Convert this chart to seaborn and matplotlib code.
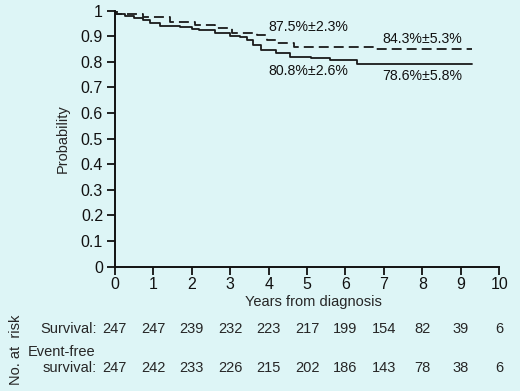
import pandas as pd
import seaborn as sns
import matplotlib.pyplot as plt

# --- dados ---
anos_sg = [0, 0.05, 0.73, 1.43, 2.08, 2.6, 3.05, 3.7, 3.95, 4.2, 4.65, 6.8, 9.3]
prob_sg = [1.0, 0.986, 0.973, 0.957, 0.944, 0.931, 0.912, 0.905, 0.885, 0.875, 0.859, 0.849, 0.849]

anos_sle = [0, 0.03, 0.25, 0.5, 0.73, 0.9, 1.17, 1.7, 2.0, 2.2, 2.6, 3.0, 3.25, 3.45,
            3.6, 3.8, 4.2, 4.55, 5.1, 5.6, 6.3, 9.3]
prob_sle = [1.0, 0.986, 0.977, 0.97, 0.964, 0.951, 0.941, 0.934, 0.928, 0.925, 0.912, 0.902,
            0.896, 0.885, 0.866, 0.846, 0.834, 0.82, 0.814, 0.807, 0.792, 0.792]

anos_risco = [0, 1, 2, 3, 4, 5, 6, 7, 8, 9, 10]
risco_sg = [247, 247, 239, 232, 223, 217, 199, 154, 82, 39, 6]
risco_sle = [247, 242, 233, 226, 215, 202, 186, 143, 78, 38, 6]

rotulos = ["87.5%\u00b12.3%", "84.3%\u00b15.3%", "80.8%\u00b12.6%", "78.6%\u00b15.8%"]
rot_x = [5.03, 8.0, 5.03, 8.0]
rot_y = [0.936, 0.889, 0.764, 0.745]

FUNDO = "#ddf5f6"

sns.set_style("ticks")
plt.rcParams['font.family'] = ['Liberation Sans', 'DejaVu Sans']

df_sg = pd.DataFrame({'Anos': anos_sg, 'Prob': prob_sg})
df_sle = pd.DataFrame({'Anos': anos_sle, 'Prob': prob_sle})

fig = plt.figure(figsize=(5.2, 3.91), dpi=100, facecolor=FUNDO)
ax = fig.add_axes([0.221, 0.318, 0.739, 0.655])
ax.set_facecolor(FUNDO)

sns.lineplot(data=df_sg, x='Anos', y='Prob', ax=ax, color='#1a1a1a', lw=1.3,
             drawstyle='steps-post', linestyle=(0, (5.5, 2.8)), estimator=None)
sns.lineplot(data=df_sle, x='Anos', y='Prob', ax=ax, color='#1a1a1a', lw=1.3,
             drawstyle='steps-post', estimator=None)

for txt, x, y in zip(rotulos, rot_x, rot_y):
    ax.text(x, y, txt, ha='center', va='center', fontsize=10.2, color='#111111')

ax.set_xlim(0, 10)
ax.set_ylim(0, 1)
ax.set_xticks(range(0, 11))
ax.set_yticks([i / 10 for i in range(11)])
ax.set_yticklabels(['0', '0.1', '0.2', '0.3', '0.4', '0.5', '0.6', '0.7', '0.8', '0.9', '1'])
ax.tick_params(labelsize=11.5, length=6, width=1.3, colors='#111111', pad=2.5)
ax.tick_params(axis='x', pad=1.5)
for s in ['top', 'right']:
    ax.spines[s].set_visible(False)
for s in ['left', 'bottom']:
    ax.spines[s].set_linewidth(1.4)
    ax.spines[s].set_color('#111111')

ax.set_xlabel('Years from diagnosis', fontsize=10.5)
ax.xaxis.set_label_coords(0.516, -0.11)
ax.set_ylabel('Probability', fontsize=10.5)
ax.yaxis.set_label_coords(-0.117, 0.5)

# tabela de numero em risco
trans = ax.get_xaxis_transform()
ax.text(-0.47, -0.243, 'Survival:', transform=trans, ha='right', va='center', fontsize=10.5)
ax.text(-2.27, -0.333, 'Event-free', transform=trans, ha='left', va='center', fontsize=10.5)
ax.text(-0.47, -0.396, 'survival:', transform=trans, ha='right', va='center', fontsize=10.5)
for x, a, b in zip(anos_risco, risco_sg, risco_sle):
    ax.text(x, -0.243, str(a), transform=trans, ha='center', va='center', fontsize=10.5, clip_on=False)
    ax.text(x, -0.396, str(b), transform=trans, ha='center', va='center', fontsize=10.5, clip_on=False)
fig.text(0.03, 0.105, 'No. at  risk', rotation=90, ha='center', va='center', fontsize=10.5)

fig.savefig('out.png', dpi=100, facecolor=FUNDO)
